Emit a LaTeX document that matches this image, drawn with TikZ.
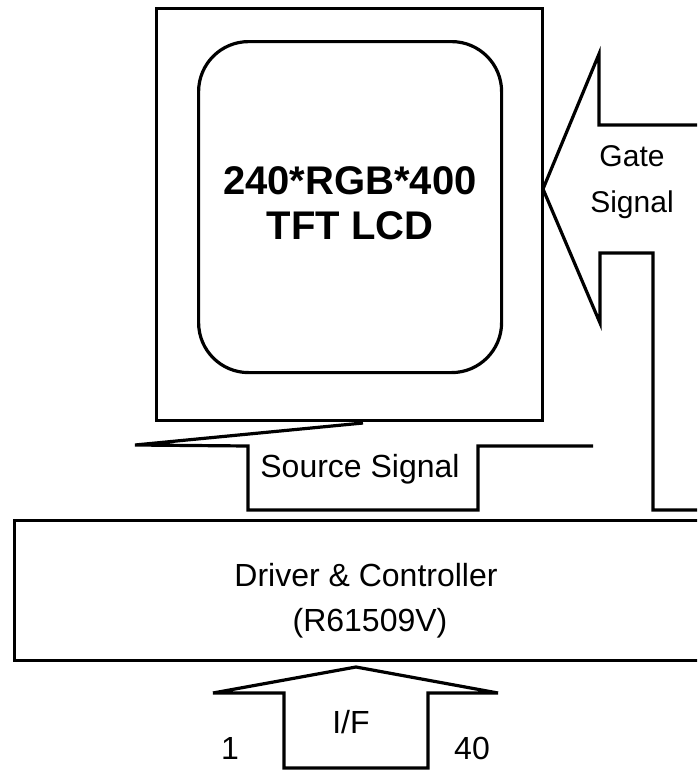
\documentclass[tikz,border=0pt]{standalone}
\usepackage{fontspec}
\setmainfont{Liberation Sans}
\begin{document}
\begin{tikzpicture}[x=1pt,y=-1pt,
  line/.style={line width=3.2pt,line join=miter},
  txt/.style={inner sep=0pt,font=\fontsize{32}{44}\selectfont,align=center},
  gtxt/.style={inner sep=0pt,font=\fontsize{30}{43}\selectfont,anchor=base},
  title/.style={inner sep=0pt,font=\bfseries\fontsize{40}{45}\selectfont,align=center}]
\useasboundingbox (0,0) rectangle (697,771);
\clip (0,0) rectangle (697,771);
% LCD outer box
\node[line,draw,rectangle,minimum width=386pt,minimum height=412pt,anchor=north west,inner sep=0pt] (lcd) at (155,7) {};
% inner panel
\node[line,draw,rectangle,rounded corners=50pt,minimum width=303pt,minimum height=331pt,anchor=north west,inner sep=0pt] (panel) at (197,40) {};
\node[title] (ttl) at (350,203) {240*RGB*400\\TFT LCD};
% driver box
\node[line,draw,rectangle,minimum width=720pt,minimum height=140pt,anchor=north west,inner sep=0pt] (drv) at (13,519) {};
\node[txt] (drvt1) at (366,575) {Driver \& Controller};
\node[txt] (drvt2) at (370,623) {(R61509V)};
% source signal arrow
\coordinate (sapex) at (363,423);
\coordinate (sl) at (135,445);
\coordinate (sr) at (593,446);
\draw[line] (sapex) -- (sl) -- (248,446) -- (248,510) -- (478,510) -- (478,446) -- (sr);
\node[txt] (src) at (360,469) {Source Signal};
% gate signal arrow
\coordinate (gtip) at (543,189);
\coordinate (gu) at (720,125);
\coordinate (gd) at (720,510);
\draw[line] (gu) -- (599,125) -- (599,54) -- (gtip) -- (600,323) -- (600,253) -- (653,253) -- (653,510) -- (gd);
\node[gtxt] (gate) at (632,166) {Gate};
\node[gtxt] (gsig) at (632,212) {Signal};
% I/F arrow
\coordinate (ifapex) at (356,667);
\draw[line] (284,768) -- (284,693) -- (213,693) -- (ifapex) -- (498,693) -- (428,693) -- (428,768) -- cycle;
\node[txt] (iftxt) at (351,722) {I/F};
\node[txt] (p1) at (230,748) {1};
\node[txt] (p40) at (472,748) {40};
\end{tikzpicture}
\end{document}
